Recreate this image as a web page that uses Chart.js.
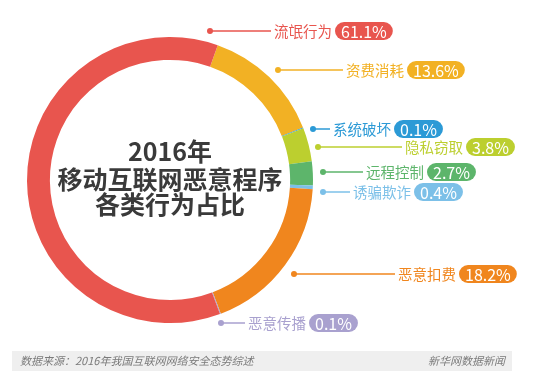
<!DOCTYPE html>
<html><head><meta charset="utf-8">
<script src="https://cdn.jsdelivr.net/npm/chart.js@4/dist/chart.umd.min.js"></script>
<style>html,body{margin:0;padding:0;background:#fff;}#wrap{width:550px;height:385px;position:relative;}</style>
</head><body><div id="wrap"><canvas id="c" width="550" height="385"></canvas></div>
<script>
const categories = ['资费消耗','系统破坏','隐私窃取','远程控制','诱骗欺诈','恶意扣费','恶意传播','流氓行为'];
const values = [13.6, 0.1, 3.8, 2.7, 0.4, 18.2, 0.1, 61.1];
const valueLabels = ['13.6%','0.1%','3.8%','2.7%','0.4%','18.2%','0.1%','61.1%'];
const colors = ['#f2b124','#2c9ad6','#bccf2f','#5db56b','#7cc0e8','#f0861e','#a9a1cf','#e8554e'];
const titleLines = ['2016年','移动互联网恶意程序','各类行为占比'];
const sourceText = '数据来源：2016年我国互联网网络安全态势综述';
const creditText = '新华网数据新闻';
// label layout: [dotX, dotY, lineEndX]
const labelLayout = [
  [278, 70, 343],
  [313, 129, 330],
  [318, 147, 402],
  [323, 172, 363],
  [323, 192, 350],
  [294, 274, 395],
  [221, 323, 245],
  [210, 31, 271]
];
const CJK = '"Noto Sans CJK SC", "Noto Sans", sans-serif';

function roundRect(ctx, x, y, w, h, r) {
  ctx.beginPath();
  ctx.moveTo(x + r, y);
  ctx.lineTo(x + w - r, y);
  ctx.arc(x + w - r, y + r, r, -Math.PI/2, Math.PI/2);
  ctx.lineTo(x + r, y + h);
  ctx.arc(x + r, y + r, r, Math.PI/2, Math.PI*1.5);
  ctx.closePath();
}

const overlay = {
  id: 'overlay',
  afterDraw(chart) {
    const ctx = chart.ctx;
    const meta = chart.getDatasetMeta(0);
    const arc = meta.data[0];
    const cx = arc.x, cy = arc.y;
    ctx.save();
    // center title
    ctx.fillStyle = '#3a3a3a';
    ctx.font = 'bold 25px ' + CJK;
    ctx.textAlign = 'center';
    ctx.textBaseline = 'middle';
    const ys = [cy - 29, cy - 1, cy + 24];
    titleLines.forEach((t, i) => ctx.fillText(t, cx, ys[i]));
    // labels
    categories.forEach((cat, i) => {
      const [dx, dy, ex] = labelLayout[i];
      const col = colors[i];
      ctx.strokeStyle = col; ctx.fillStyle = col; ctx.lineWidth = 1.5;
      ctx.beginPath(); ctx.moveTo(dx, dy); ctx.lineTo(ex, dy); ctx.stroke();
      ctx.beginPath(); ctx.arc(dx, dy, 3, 0, Math.PI*2); ctx.fill();
      ctx.font = '14.5px ' + CJK;
      ctx.textAlign = 'left'; ctx.textBaseline = 'middle';
      const tx = ex + 3;
      ctx.fillText(cat, tx, dy);
      const tw = ctx.measureText(cat).width;
      ctx.font = '16px ' + CJK;
      const vw = ctx.measureText(valueLabels[i]).width;
      const px = tx + tw + 3, ph = 18, pw = vw + 12;
      roundRect(ctx, px, dy - ph/2, pw, ph, ph/2);
      ctx.fill();
      ctx.fillStyle = '#fff';
      ctx.fillText(valueLabels[i], px + 6, dy + 1);
    });
    // footer
    ctx.fillStyle = '#efefef';
    ctx.fillRect(12, 351, 500, 20);
    ctx.fillStyle = '#7a7a7a';
    ctx.font = 'italic 11px ' + CJK;
    ctx.textBaseline = 'middle';
    ctx.textAlign = 'left';
    ctx.fillText(sourceText, 20, 361);
    ctx.textAlign = 'right';
    ctx.fillText(creditText, 505, 361);
    ctx.restore();
  }
};

new Chart(document.getElementById('c'), {
  type: 'doughnut',
  data: { labels: categories, datasets: [{ data: values, backgroundColor: colors, borderWidth: 0 }] },
  options: {
    responsive: false, animation: false,
    rotation: 19.5, cutout: '84%',
    layout: { padding: { left: 27, right: 237, top: 37, bottom: 62 } },
    plugins: { legend: { display: false }, tooltip: { enabled: false } }
  },
  plugins: [overlay]
});
</script></body></html>
